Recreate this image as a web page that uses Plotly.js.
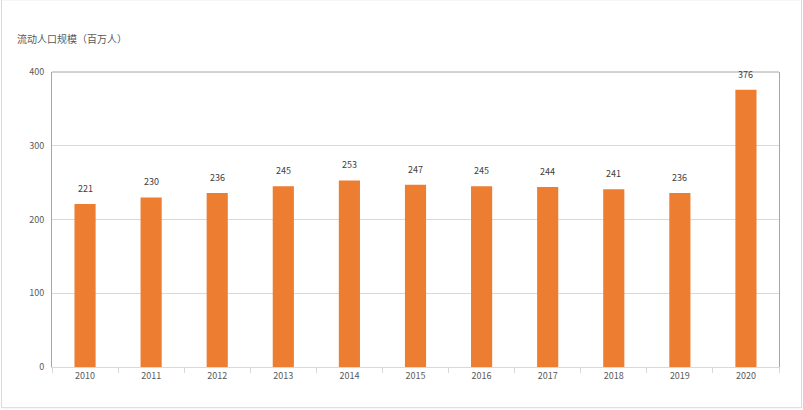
<!DOCTYPE html>
<html><head><meta charset="utf-8">
<script src="https://cdn.plot.ly/plotly-3.0.1.min.js"></script>
<style>html,body{margin:0;padding:0;background:#fff;}#chart{width:803px;height:410px;}</style>
</head><body><div id="chart"></div>
<script>
const years = ['2010','2011','2012','2013','2014','2015','2016','2017','2018','2019','2020'];
const population = [221,230,236,245,253,247,245,244,241,236,376];
const yTicks = [0,100,200,300,400];
const chartTitle = '流动人口规模（百万人）';

const font = 'Microsoft YaHei, "Noto Sans CJK SC", "DejaVu Sans", sans-serif';
const trace = {
  type:'bar', x: years, y: population,
  marker:{color:'#ED7D31'},
  hoverinfo:'x+y'
};
const annotations = years.map((yr,i)=>({
  x: i, y: population[i], xref:'x', yref:'y',
  text: String(population[i]), showarrow:false,
  yanchor:'bottom', yshift:7,
  font:{family:font,size:9,color:'#404040'}
}));
annotations.push({
  xref:'paper', yref:'paper', x:-0.051, y:1.115, xanchor:'left', yanchor:'middle',
  text: chartTitle, showarrow:false,
  font:{family:font,size:10,color:'#595959'}
});
const layout = {
  width:803, height:410,
  margin:{l:52, r:24, t:72, b:43},
  paper_bgcolor:'#fff', plot_bgcolor:'#fff',
  showlegend:false,
  bargap:0.68,
  font:{family:font,size:9,color:'#595959'},
  xaxis:{
    type:'category', range:[-0.5, years.length-0.5], autorange:false,
    showline:true, linecolor:'#d9d9d9', linewidth:1,
    ticks:'outside', tickson:'boundaries', ticklen:5, tickcolor:'#d9d9d9',
    showgrid:false, tickfont:{size:9,color:'#595959'}, tickangle:0, fixedrange:true
  },
  yaxis:{
    range:[0,400], autorange:false, tickvals:yTicks, ticktext:yTicks.map(String),
    showgrid:true, gridcolor:'#d9d9d9', gridwidth:1,
    showline:true, mirror:true, linecolor:'#a6a6a6', linewidth:1,
    zeroline:false, ticks:'', ticklabelstandoff:5,
    tickfont:{size:9,color:'#595959'}, fixedrange:true
  },
  shapes:[
    {type:'line', xref:'paper', yref:'paper', x0:0, x1:1, y0:1, y1:1, line:{color:'#a6a6a6', width:1}},
    {type:'rect', xref:'paper', yref:'paper', x0:-0.0695, x1:1.031, y0:-0.138, y1:1.245, line:{color:'#d9d9d9', width:1}, layer:'below'}
  ],
  annotations: annotations
};
Plotly.newPlot('chart',[trace],layout,{displayModeBar:false,staticPlot:true});
</script></body></html>
